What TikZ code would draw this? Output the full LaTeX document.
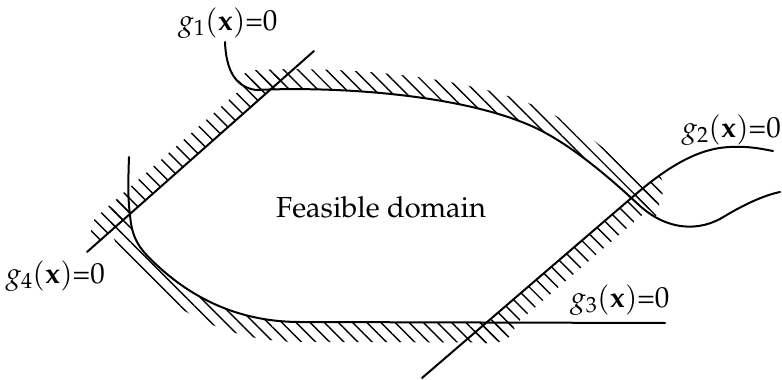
\documentclass[tikz,border=0pt]{standalone}
\usepackage[T1]{fontenc}
\usepackage{mathpazo}
\usetikzlibrary{patterns.meta,decorations.markings}
\tikzset{
  curveline/.style={line width=2pt, line cap=round, line join=round},
  hatchfill/.style={pattern={Lines[angle=-45,distance=10pt,line width=1.4pt]}, pattern color=black},
  bandmarks/.style={decoration={markings,
     mark=between positions 0 and 1 step 2pt with {%
       \coordinate (#1-\pgfkeysvalueof{/pgf/decoration/mark info/sequence number});%
       \xdef\lastband{\pgfkeysvalueof{/pgf/decoration/mark info/sequence number}}}},
     decorate},
  lbl/.style={inner sep=0pt, font=\fontsize{29}{35}\selectfont}
}
\def\hw{20pt}
\begin{document}
\begin{tikzpicture}[x=1pt,y=-1pt]
\useasboundingbox (0,0) rectangle (782,380);

% ---- centres of the hatch bands ----
\path[bandmarks=hA] (111,230.6) -- (268,91.8);
\xdef\nA{\lastband}
\path[bandmarks=hB] (256,90) .. controls (340,86) and (470,95) .. (540,130)
   .. controls (575,148) and (610,178) .. (640,206);
\xdef\nB{\lastband}
\path[bandmarks=hC] (486,323.3) -- (645,186.3);
\xdef\nC{\lastband}
\path[bandmarks=hD] (130,215) .. controls (132,240) and (140,250) .. (160,268)
   .. controls (190,295) and (235,322) .. (300,322) -- (497,322.5);
\xdef\nD{\lastband}

% ---- hatching g4 ----
\begin{scope}
  \clip (-140,453) -- (541,-150) -- (-200,-200) -- cycle;
  \clip \foreach \i in {1,...,\nA} {(hA-\i) circle[radius=\hw]};
  \fill[hatchfill] (-10,-10) rectangle (800,400);
\end{scope}
% ---- hatching g1 ----
\begin{scope}
  \clip (225,42) .. controls (226,68) and (234,87) .. (256,90)
     .. controls (340,86) and (470,95) .. (540,130)
     .. controls (575,148) and (610,178) .. (640,206)
     .. controls (668,231) and (700,232) .. (725,216)
     .. controls (745,204) and (765,195) .. (780,192)
     -- (800,180) -- (800,-50) -- (225,-50) -- cycle;
  \clip \foreach \i in {1,...,\nB} {(hB-\i) circle[radius=\hw]};
  \fill[hatchfill] (-10,-10) rectangle (800,400);
\end{scope}
% ---- hatching g2 ----
\begin{scope}
  \clip (379,415) -- (636,194) .. controls (670,165) and (700,148) .. (730,147)
     .. controls (750,146) and (762,149) .. (773,151)
     -- (800,151) -- (800,420) -- cycle;
  \clip \foreach \i in {1,...,\nC} {(hC-\i) circle[radius=\hw]};
  \fill[hatchfill] (-10,-10) rectangle (800,400);
\end{scope}
% ---- hatching g3 ----
\begin{scope}
  \clip (129,157) .. controls (128,185) and (128,200) .. (130,215)
     .. controls (132,240) and (140,250) .. (160,268)
     .. controls (190,295) and (235,322) .. (300,322)
     -- (665,323) -- (800,323) -- (800,420) -- (-20,420) -- (-20,157) -- cycle;
  \clip \foreach \i in {1,...,\nD} {(hD-\i) circle[radius=\hw]};
  \fill[hatchfill] (-10,-10) rectangle (800,400);
\end{scope}

% ---- constraint curves ----
\draw[curveline] (87,252) -- (314,51);
\draw[curveline] (225,42) .. controls (226,68) and (234,87) .. (256,90)
     .. controls (340,86) and (470,95) .. (540,130)
     .. controls (575,148) and (610,178) .. (640,206)
     .. controls (668,231) and (700,232) .. (725,216)
     .. controls (745,204) and (765,195) .. (780,192);
\draw[curveline] (422,378) -- (636,194) .. controls (670,165) and (700,148) .. (730,147)
     .. controls (750,146) and (762,149) .. (773,151);
\draw[curveline] (129,157) .. controls (128,185) and (128,200) .. (130,215)
     .. controls (132,240) and (140,250) .. (160,268)
     .. controls (190,295) and (235,322) .. (300,322) -- (665,323);

% ---- labels ----
\node[lbl, anchor=base west] (t1) at (178,30) {$g_1(\mathbf{x})$=0};
\node[lbl, anchor=base east] (t2) at (781,137) {$g_2(\mathbf{x})$=0};
\node[lbl, anchor=base west] (t3) at (570,307) {$g_3(\mathbf{x})$=0};
\node[lbl, anchor=base east] (t4) at (105,283) {$g_4(\mathbf{x})$=0};
\node[lbl, anchor=base west] (fd) at (276,217) {Feasible domain};
\end{tikzpicture}
\end{document}
